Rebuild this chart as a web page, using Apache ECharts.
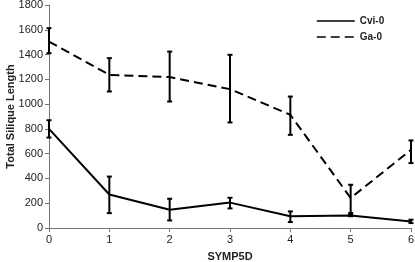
<!DOCTYPE html>
<html>
<head>
<meta charset="utf-8">
<script src="https://cdn.jsdelivr.net/npm/echarts@6/dist/echarts.min.js"></script>
<style>
  html, body { margin: 0; padding: 0; background: #fff; }
  #chart { width: 415px; height: 262px; }
</style>
</head>
<body>
<div id="chart"></div>
<script>
const days = [0, 1, 2, 3, 4, 5, 6];
const cviMean = [800, 270, 148, 205, 95, 100, 53];
const cviLow = [730, 120, 61, 158, 48, 95, 40];
const cviHigh = [870, 415, 236, 244, 134, 105, 67];
const gaMean = [1505, 1236, 1218, 1121, 914, 242, 631];
const gaLow = [1411, 1102, 1021, 852, 752, 121, 524];
const gaHigh = [1613, 1371, 1424, 1398, 1061, 349, 707];

const font = 'Liberation Sans';

const chart = echarts.init(document.getElementById('chart'));

const errorSeries = (name, low, high) => ({
  name: name,
  type: 'custom',
  silent: true,
  z: 3,
  data: days.map((d, i) => [d, low[i], high[i]]),
  renderItem: (params, api) => {
    const top = api.coord([api.value(0), api.value(2)]);
    const bot = api.coord([api.value(0), api.value(1)]);
    const cap = 2.5;
    const style = { stroke: '#000', lineWidth: 2 };
    return {
      type: 'group',
      children: [
        { type: 'line', shape: { x1: top[0], y1: top[1], x2: bot[0], y2: bot[1] }, style },
        { type: 'line', shape: { x1: top[0] - cap, y1: top[1], x2: top[0] + cap, y2: top[1] }, style },
        { type: 'line', shape: { x1: bot[0] - cap, y1: bot[1], x2: bot[0] + cap, y2: bot[1] }, style }
      ]
    };
  }
});

const option = {
  animation: false,
  grid: { left: 49, right: 4, top: 5, bottom: 34, outerBoundsMode: 'none', containLabel: false },
  legend: {
    data: ['Cvi-0', 'Ga-0'],
    orient: 'vertical',
    left: 311,
    top: 11,
    itemWidth: 38,
    itemHeight: 10,
    itemGap: 6,
    itemStyle: { opacity: 0 },
    lineStyle: { width: 1.5 },
    textStyle: { fontFamily: font, fontSize: 10, fontWeight: 'bold', color: '#222' }
  },
  xAxis: {
    type: 'value',
    min: 0,
    max: 6,
    interval: 1,
    name: 'SYMP5D',
    nameLocation: 'middle',
    nameGap: 23,
    nameMoveOverlap: false,
    nameTextStyle: { fontFamily: font, fontSize: 11, fontWeight: 'bold', color: '#222' },
    axisLine: { lineStyle: { color: '#777', width: 1 } },
    axisTick: { show: true, length: 4, lineStyle: { color: '#777' } },
    axisLabel: { fontFamily: font, fontSize: 11, color: '#222', margin: 6 },
    splitLine: { show: false }
  },
  yAxis: {
    type: 'value',
    min: 0,
    max: 1800,
    interval: 200,
    name: 'Total Silique Length',
    nameLocation: 'middle',
    nameGap: 33,
    nameMoveOverlap: false,
    nameTextStyle: { fontFamily: font, fontSize: 11, fontWeight: 'bold', color: '#222' },
    axisLine: { show: true, lineStyle: { color: '#777', width: 1 } },
    axisTick: { show: true, length: 4, lineStyle: { color: '#777' } },
    axisLabel: { fontFamily: font, fontSize: 11, color: '#222', margin: 6, formatter: (v) => String(v) },
    splitLine: { show: false }
  },
  series: [
    {
      name: 'Cvi-0',
      type: 'line',
      data: days.map((d, i) => [d, cviMean[i]]),
      symbol: 'none',
      lineStyle: { color: '#000', width: 2, type: 'solid' },
      itemStyle: { color: '#000' }
    },
    {
      name: 'Ga-0',
      type: 'line',
      data: days.map((d, i) => [d, gaMean[i]]),
      symbol: 'none',
      lineStyle: { color: '#000', width: 2, type: [9, 5] },
      itemStyle: { color: '#000' }
    },
    errorSeries('cviErr', cviLow, cviHigh),
    errorSeries('gaErr', gaLow, gaHigh)
  ]
};

chart.setOption(option);
</script>
</body>
</html>
